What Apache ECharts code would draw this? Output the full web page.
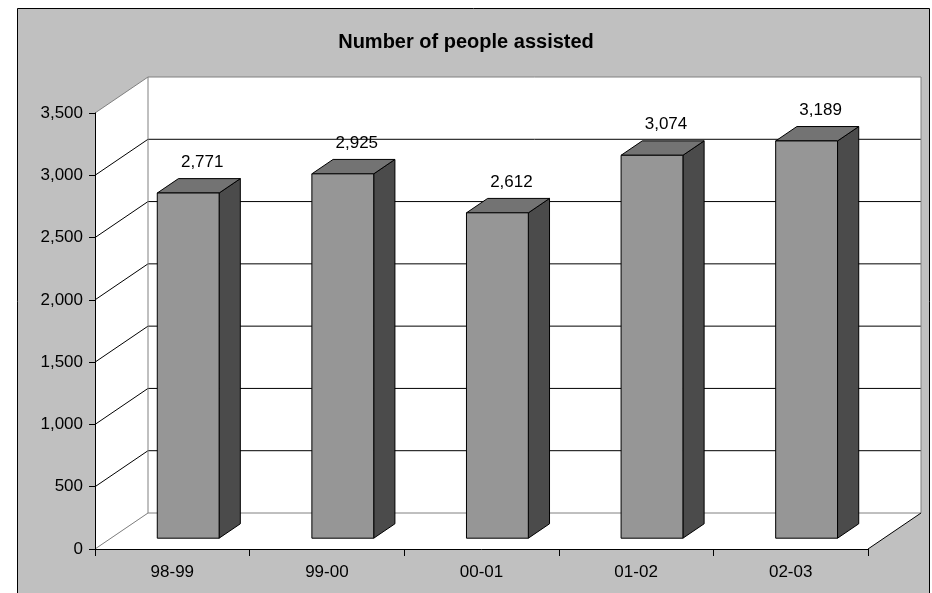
<!DOCTYPE html>
<html>
<head>
<meta charset="utf-8">
<title>Number of people assisted</title>
<script src="https://cdn.jsdelivr.net/npm/echarts@6/dist/echarts.min.js"></script>
<style>
  html, body { margin: 0; padding: 0; background: #ffffff; }
  #chart { width: 932px; height: 593px; }
</style>
</head>
<body>
<div id="chart"></div>
<script>
// Financial years and the number of people assisted in each
const categories = ['98-99', '99-00', '00-01', '01-02', '02-03'];
const peopleAssisted = [2771, 2925, 2612, 3074, 3189];

// Value axis range and gridline step
const axisMin = 0;
const axisMax = 3500;
const axisStep = 500;

// Pseudo-3D depth of the plot box (pixels) and placement of columns within it
const DEPTH_X = 53;
const DEPTH_Y = -36;
const BAR_FRONT = 0.3;   // column front face sits 30% into the depth
const BAR_DEPTH = 0.4;   // column depth as a share of the box depth
const BAR_WIDTH = 0.4;   // column width as a share of the category band

const FONT = 'Liberation Sans, Arial, Helvetica, sans-serif';
const fmt = v => Number(v).toLocaleString('en-US');

const chart = echarts.init(document.getElementById('chart'), null, { renderer: 'canvas' });

// Walls, floor and gridlines of the 3D box, drawn from the grid's own scale
function renderWalls(params, api) {
  const cs = params.coordSys;
  const x0 = cs.x, x1 = cs.x + cs.width;
  const yTop = cs.y, y0 = cs.y + cs.height;
  const dx = DEPTH_X, dy = DEPTH_Y;
  const children = [];
  const white = { fill: '#ffffff', stroke: null };

  // left side wall
  children.push({ type: 'polygon', shape: { points: [[x0, yTop], [x0, y0], [x0 + dx, y0 + dy], [x0 + dx, yTop + dy]] }, style: white, silent: true });
  // back wall
  children.push({ type: 'rect', shape: { x: x0 + dx, y: yTop + dy, width: x1 - x0, height: y0 - yTop }, style: white, silent: true });
  // floor
  children.push({ type: 'polygon', shape: { points: [[x0, y0], [x1, y0], [x1 + dx, y0 + dy], [x0 + dx, y0 + dy]] }, style: white, silent: true });

  // gridlines across the side wall and back wall
  for (let v = axisMin + axisStep; v < axisMax; v += axisStep) {
    const y = api.coord([0, v])[1];
    children.push({
      type: 'polyline',
      shape: { points: [[x0, y], [x0 + dx, y + dy], [x1 + dx, y + dy]] },
      style: { stroke: '#000000', lineWidth: 1, fill: null },
      silent: true
    });
  }

  const grey = { stroke: '#808080', lineWidth: 1, fill: null };
  // outline of the walls
  children.push({ type: 'polyline', shape: { points: [[x0, yTop], [x0 + dx, yTop + dy], [x1 + dx, yTop + dy], [x1 + dx, y0 + dy]] }, style: grey, silent: true });
  children.push({ type: 'polyline', shape: { points: [[x0 + dx, yTop + dy], [x0 + dx, y0 + dy], [x1 + dx, y0 + dy]] }, style: grey, silent: true });
  children.push({ type: 'line', shape: { x1: x0, y1: y0, x2: x0 + dx, y2: y0 + dy }, style: grey, silent: true });
  // right edge of the floor
  children.push({ type: 'line', shape: { x1: x1, y1: y0, x2: x1 + dx, y2: y0 + dy }, style: { stroke: '#000000', lineWidth: 1 }, silent: true });

  return { type: 'group', children };
}

// One shaded 3D column with its value label
function renderColumn(params, api) {
  const idx = api.value(0);
  const val = api.value(1);
  const topPt = api.coord([idx, val]);
  const basePt = api.coord([idx, axisMin]);
  const band = api.size([1, 0])[0];
  const w = band * BAR_WIDTH;

  const ox = DEPTH_X * BAR_FRONT, oy = DEPTH_Y * BAR_FRONT;
  const bx = DEPTH_X * BAR_DEPTH, by = DEPTH_Y * BAR_DEPTH;
  const L = topPt[0] - w / 2 + ox, R = topPt[0] + w / 2 + ox;
  const T = topPt[1] + oy, B = basePt[1] + oy;
  const edge = { stroke: '#000000', lineWidth: 1, lineJoin: 'miter' };

  return {
    type: 'group',
    children: [
      { type: 'polygon', shape: { points: [[R, T], [R + bx, T + by], [R + bx, B + by], [R, B]] }, style: Object.assign({ fill: '#4b4b4b' }, edge) },
      { type: 'polygon', shape: { points: [[L, T], [R, T], [R + bx, T + by], [L + bx, T + by]] }, style: Object.assign({ fill: '#737373' }, edge) },
      { type: 'rect', shape: { x: L, y: T, width: R - L, height: B - T }, style: Object.assign({ fill: '#969696' }, edge) },
      {
        type: 'text',
        x: (L + R) / 2 + 14,
        y: T - 31,
        style: {
          text: fmt(val),
          fill: '#000000',
          font: '17px ' + FONT,
          align: 'center',
          verticalAlign: 'middle'
        }
      }
    ]
  };
}

const option = {
  animation: false,
  backgroundColor: '#ffffff',
  graphic: [{
    type: 'rect',
    z: -10,
    silent: true,
    shape: { x: 17.5, y: 8.5, width: 912, height: 590 },
    style: { fill: '#c0c0c0', stroke: '#000000', lineWidth: 1 }
  }],
  title: {
    text: 'Number of people assisted',
    left: 'center',
    top: 27,
    textStyle: { fontFamily: FONT, fontSize: 20, fontWeight: 'bold', color: '#000000' }
  },
  grid: { left: 95, right: 64, top: 113, bottom: 44, containLabel: false },
  xAxis: {
    type: 'category',
    data: categories,
    boundaryGap: true,
    z: 5,
    axisLine: { lineStyle: { color: '#000000', width: 1 } },
    axisTick: { show: true, length: 7, alignWithLabel: false, lineStyle: { color: '#000000' } },
    axisLabel: { margin: 15, color: '#000000', fontFamily: FONT, fontSize: 17 },
    splitLine: { show: false }
  },
  yAxis: {
    type: 'value',
    min: axisMin,
    max: axisMax,
    interval: axisStep,
    z: 5,
    axisLine: { show: true, lineStyle: { color: '#000000', width: 1 } },
    axisTick: { show: true, length: 6, lineStyle: { color: '#000000' } },
    axisLabel: { margin: 12, color: '#000000', fontFamily: FONT, fontSize: 17, formatter: v => fmt(v) },
    splitLine: { show: false }
  },
  series: [
    {
      type: 'custom',
      name: 'walls',
      z: 0,
      silent: true,
      renderItem: renderWalls,
      data: [[0, axisMin]]
    },
    {
      type: 'custom',
      name: 'People assisted',
      z: 2,
      renderItem: renderColumn,
      encode: { x: 0, y: 1 },
      data: peopleAssisted.map((v, i) => [i, v])
    }
  ]
};

chart.setOption(option);
</script>
</body>
</html>
